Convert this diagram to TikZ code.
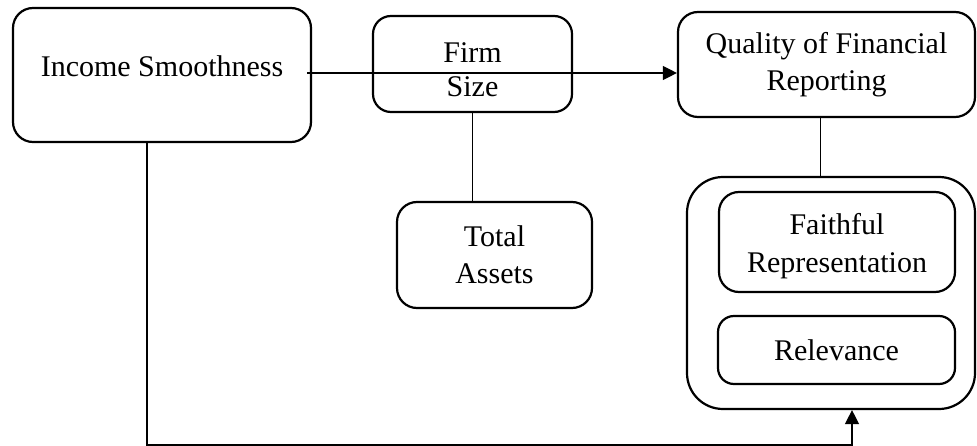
\documentclass[tikz,border=0pt]{standalone}
\usepackage{fontspec}
\setmainfont{Liberation Serif}
\usetikzlibrary{arrows.meta}
\begin{document}
\begin{tikzpicture}[x=1pt,y=-1pt,
  box/.style={draw,line width=2.2pt,rounded corners=20pt,align=center,
    font=\fontsize{30}{37}\selectfont,inner sep=0pt},
  conn/.style={line width=1.3pt},
  arr/.style={conn,-{Triangle[length=14pt,width=14pt]}}]
\useasboundingbox (0,0) rectangle (977,446);
\node[box,minimum width=298pt,minimum height=134pt] (inc) at (162,75) {\raisebox{-2pt}[0pt][0pt]{Income Smoothness}};
\node[box,minimum width=199pt,minimum height=96pt,rounded corners=18pt,
  font=\fontsize{30}{34}\selectfont] (firm) at (472.5,64) {\raisebox{-14.5pt}[0pt][0pt]{\begin{tabular}{@{}c@{}}Firm\\Size\end{tabular}}};
\node[box,minimum width=297pt,minimum height=105pt] (qual) at (826.5,64.5) {Quality of Financial\\Reporting};
\node[box,minimum width=195pt,minimum height=106pt] (ta) at (494.5,255) {Total\\Assets};
\node[draw,line width=2.2pt,rounded corners=36pt,minimum width=288pt,minimum height=232pt,inner sep=0pt] (outer) at (831,293) {};
\node[box,minimum width=236pt,minimum height=100pt,font=\fontsize{30}{38}\selectfont] (faith) at (837,242) {\raisebox{-10pt}[0pt][0pt]{\begin{tabular}{@{}c@{}}Faithful\\Representation\end{tabular}}};
\node[box,minimum width=237pt,minimum height=68pt,rounded corners=16pt] (rel) at (836.5,350) {Relevance};
\draw[arr] ([xshift=-5pt,yshift=2pt]inc.east) -- ([yshift=2pt]inc.east -| qual.west);
\draw[conn] (firm.south) -- (firm.south |- ta.north);
\draw[conn] ([xshift=-6pt]qual.south) -- ([xshift=-6pt]qual.south |- outer.north);
\draw[arr] ([xshift=-15pt]inc.south) -- ++(0,302) -| ([xshift=21pt]outer.south);
\end{tikzpicture}
\end{document}
